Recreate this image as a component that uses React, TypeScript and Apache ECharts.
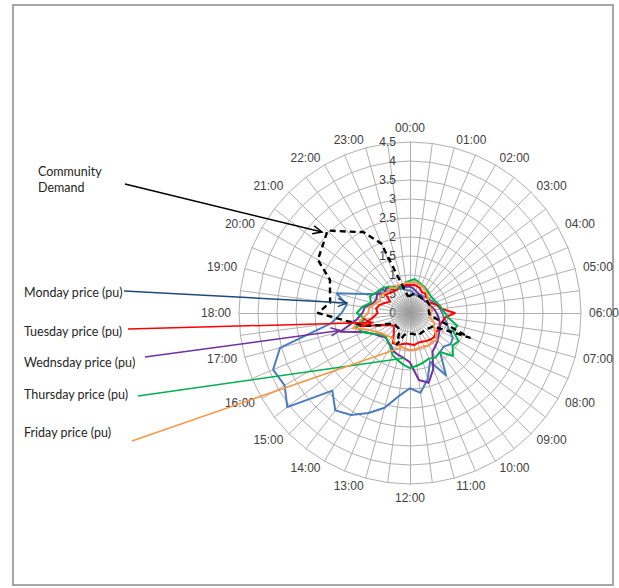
import React, { useEffect, useRef } from 'react';
import * as echarts from 'echarts';

// Half-hourly time slots (48 spokes); only hourly ones are labelled
const timeSlots = [
  '00:00', '00:30', '01:00', '01:30', '02:00', '02:30', '03:00', '03:30',
  '04:00', '04:30', '05:00', '05:30', '06:00', '06:30', '07:00', '07:30',
  '08:00', '08:30', '09:00', '09:30', '10:00', '10:30', '11:00', '11:30',
  '12:00', '12:30', '13:00', '13:30', '14:00', '14:30', '15:00', '15:30',
  '16:00', '16:30', '17:00', '17:30', '18:00', '18:30', '19:00', '19:30',
  '20:00', '20:30', '21:00', '21:30', '22:00', '22:30', '23:00', '23:30',
];

const communityDemand = [
  0.45, 0.5, 0.5, 0.5, 0.5, 0.5, 0.5, 0.55, 0.55, 0.55, 0.5, 0.5,
  0.5, 0.55, 0.85, 1.7, 0.7, 0.65, 0.6, 0.6, 0.6, 0.62, 0.6, 0.55,
  0.55, 0.55, 0.6, 0.9, 0.55, 0.5, 0.5, 0.5, 0.55, 0.85, 1.27, 1.66,
  2.42, 2.12, 2.18, 2.28, 2.8, 2.9, 3.07, 2.7, 2.46, 1.98, 0.72, 0.45,
];
const mondayPrice = [
  0.6, 0.55, 0.5, 0.5, 0.55, 0.55, 0.6, 0.6, 0.65, 0.7, 0.75, 0.8,
  0.85, 0.9, 1.0, 1.1, 1.3, 1.35, 1.25, 1.3, 1.9, 1.38, 1.8, 2.12,
  1.98, 2.2, 2.58, 2.85, 3.1, 3.23, 2.89, 4.07, 3.81, 3.9, 3.54, 2.1,
  1.8, 1.68, 2.0, 1.3, 1.0, 1.0, 0.8, 0.7, 0.75, 0.7, 0.65, 0.6,
];
const tuesdayPrice = [
  0.74, 0.75, 0.73, 0.7, 0.63, 0.65, 0.6, 0.62, 0.57, 0.65, 0.76, 0.84,
  1.18, 0.93, 0.88, 0.85, 0.87, 0.85, 0.9, 0.88, 0.85, 0.82, 0.81, 0.85,
  0.82, 0.81, 0.85, 0.9, 0.91, 0.7, 0.6, 0.54, 0.65, 0.83, 1.36, 1.0,
  0.85, 0.9, 0.83, 0.7, 0.6, 0.8, 0.75, 0.72, 0.7, 0.72, 0.76, 0.75,
];
const wednesdayPrice = [
  0.7, 0.65, 0.6, 0.55, 0.55, 0.5, 0.5, 0.5, 0.55, 0.55, 0.6, 0.65,
  0.7, 0.75, 0.8, 0.85, 0.9, 0.95, 1.03, 1.1, 1.18, 1.6, 1.9, 1.78,
  1.3, 1.2, 1.15, 1.1, 1.0, 0.95, 0.9, 1.0, 1.1, 1.3, 1.9, 1.43,
  1.25, 1.2, 1.0, 0.95, 1.0, 0.85, 0.9, 0.85, 0.8, 0.75, 0.7, 0.7,
];
const thursdayPrice = [
  0.85, 0.9, 0.85, 0.8, 0.78, 0.75, 0.72, 0.7, 0.72, 0.75, 0.8, 0.85,
  0.92, 1.02, 1.29, 1.22, 1.48, 1.41, 1.6, 1.29, 1.35, 1.3, 1.35, 1.4,
  1.45, 1.37, 1.28, 1.2, 1.03, 0.95, 0.9, 0.93, 1.1, 1.33, 1.47, 1.2,
  1.4, 1.26, 1.06, 1.14, 1.05, 1.0, 0.95, 0.87, 0.8, 0.7, 0.75, 0.82,
];
const fridayPrice = [
  0.8, 0.82, 0.8, 0.78, 0.75, 0.7, 0.65, 0.6, 0.58, 0.55, 0.55, 0.6,
  0.55, 0.55, 0.55, 0.7, 0.72, 0.85, 1.0, 0.95, 0.99, 0.95, 0.95, 0.97,
  0.98, 0.95, 0.92, 0.9, 0.85, 0.8, 0.85, 0.9, 1.0, 1.16, 1.55, 1.28,
  1.1, 1.08, 0.95, 0.85, 0.9, 0.85, 0.8, 0.85, 0.75, 0.8, 0.78, 0.8,
];

const valueMin = 0;
const valueMax = 4.5;
const valueSplits = 9; // rings every 0.5

const seriesDefs = [
  { name: 'Monday price (pu)', data: mondayPrice, color: '#4A7EBB', dashed: false },
  { name: 'Tuesday price (pu)', data: tuesdayPrice, color: '#FF0000', dashed: false },
  { name: 'Wednsday price (pu)', data: wednesdayPrice, color: '#7030A0', dashed: false },
  { name: 'Thursday price (pu)', data: thursdayPrice, color: '#00B050', dashed: false },
  { name: 'Friday price (pu)', data: fridayPrice, color: '#F79646', dashed: false },
  { name: 'Community Demand', data: communityDemand, color: '#000000', dashed: true },
];

function arrowHead(x1: number, y1: number, x2: number, y2: number, len = 10, ang = 0.42) {
  const a = Math.atan2(y2 - y1, x2 - x1);
  return [
    [x2 - len * Math.cos(a - ang), y2 - len * Math.sin(a - ang)],
    [x2, y2],
    [x2 - len * Math.cos(a + ang), y2 - len * Math.sin(a + ang)],
  ];
}

const labelFont = 'Lato, "Open Sans", sans-serif';
const axisFont = '"Liberation Sans", Arial, sans-serif';
const CX = 410;
const CY = 313;

export default function App() {
  const ref = useRef<HTMLDivElement>(null);
  useEffect(() => {
    if (!ref.current) return;
    const chart = echarts.init(ref.current, null, { renderer: 'svg' });
    // ECharts places radar indicators counter-clockwise; reverse to go clockwise
    const order = [0];
    for (let k = timeSlots.length - 1; k >= 1; k--) order.push(k);
    const reorder = (arr: number[]) => order.map((k) => arr[k]);

    const indicator = order.map((k, j) => {
      const ind: any = {
        name: timeSlots[k].endsWith(':00') ? timeSlots[k] : '',
        min: valueMin,
        max: valueMax,
      };
      if (j === 0) ind.axisLabel = { show: true };
      return ind;
    });

    const annotations = [
      { text: 'Monday price (pu)', tx: 24, ty: 292, x1: 124, y1: 291, x2: 347, y2: 303, color: '#1F497D', arrow: true },
      { text: 'Tuesday price (pu)', tx: 24, ty: 331, x1: 128, y1: 329, x2: 372, y2: 322.5, color: '#FF0000', arrow: true },
      { text: 'Wednsday price (pu)', tx: 24, ty: 362, x1: 145, y1: 357, x2: 340, y2: 330.5, color: '#7030A0', arrow: true },
      { text: 'Thursday price (pu)', tx: 24, ty: 394, x1: 138, y1: 396, x2: 405, y2: 358, color: '#00B050', arrow: false },
      { text: 'Friday price (pu)', tx: 24, ty: 432, x1: 132, y1: 441, x2: 400, y2: 348, color: '#F79646', arrow: false },
    ];

    const textStyle = (text: string, x: number, y: number) => ({
      text, x, y, fill: '#262626', font: `12.5px ${labelFont}`,
      textVerticalAlign: 'middle', verticalAlign: 'middle',
    });

    const graphic: any[] = [
      {
        type: 'rect',
        shape: { x: 13, y: 5, width: 600, height: 580 },
        style: { fill: 'none', stroke: '#a6a6a6', lineWidth: 2 },
        silent: true,
      },
      {
        type: 'circle',
        shape: { cx: CX, cy: CY, r: 21 },
        style: {
          fill: new echarts.graphic.RadialGradient(0.5, 0.5, 0.5, [
            { offset: 0, color: 'rgba(150,150,150,0.9)' },
            { offset: 0.6, color: 'rgba(170,170,170,0.6)' },
            { offset: 1, color: 'rgba(200,200,200,0)' },
          ]),
        },
        silent: true,
        z: 1,
      },
      { type: 'text', style: textStyle('Community', 38, 171) },
      { type: 'text', style: textStyle('Demand', 38, 187) },
      {
        type: 'line',
        shape: { x1: 125, y1: 184, x2: 322, y2: 232 },
        style: { stroke: '#000000', lineWidth: 1.5 },
        z: 100,
      },
      {
        type: 'polyline',
        shape: { points: arrowHead(125, 184, 322, 232) },
        style: { stroke: '#000000', lineWidth: 1.5, fill: 'none' },
        z: 100,
      },
    ];
    annotations.forEach((a) => {
      graphic.push({ type: 'text', style: textStyle(a.text, a.tx, a.ty) });
      graphic.push({
        type: 'line',
        shape: { x1: a.x1, y1: a.y1, x2: a.x2, y2: a.y2 },
        style: { stroke: a.color, lineWidth: 1.5 },
        z: 100,
      });
      if (a.arrow) {
        graphic.push({
          type: 'polyline',
          shape: { points: arrowHead(a.x1, a.y1, a.x2, a.y2) },
          style: { stroke: a.color, lineWidth: 1.5, fill: 'none' },
          z: 100,
        });
      }
    });

    chart.setOption({
      animation: false,
      backgroundColor: '#ffffff',
      radar: {
        center: [CX, CY],
        radius: 171,
        startAngle: 90,
        shape: 'polygon',
        splitNumber: valueSplits,
        nameGap: 8,
        axisName: { color: '#404040', fontSize: 12, fontFamily: axisFont },
        axisLine: { lineStyle: { color: '#b0b0b0', width: 1 } },
        splitLine: { lineStyle: { color: '#b0b0b0', width: 1 } },
        splitArea: { show: false },
        axisTick: { show: false },
        axisLabel: { show: false, margin: 14, color: '#404040', fontSize: 12, fontFamily: axisFont },
        indicator,
      },
      series: seriesDefs.map((s, i) => ({
        type: 'radar',
        name: s.name,
        symbol: 'none',
        z: 2 + i,
        lineStyle: { color: s.color, width: s.dashed ? 2.4 : 2, type: s.dashed ? [6, 4] : 'solid' },
        itemStyle: { color: s.color },
        data: [{ value: reorder(s.data), name: s.name }],
      })),
      graphic,
    });
    return () => chart.dispose();
  }, []);
  return <div ref={ref} style={{ position: 'absolute', left: 0, top: 0, width: 619, height: 588 }} />;
}
